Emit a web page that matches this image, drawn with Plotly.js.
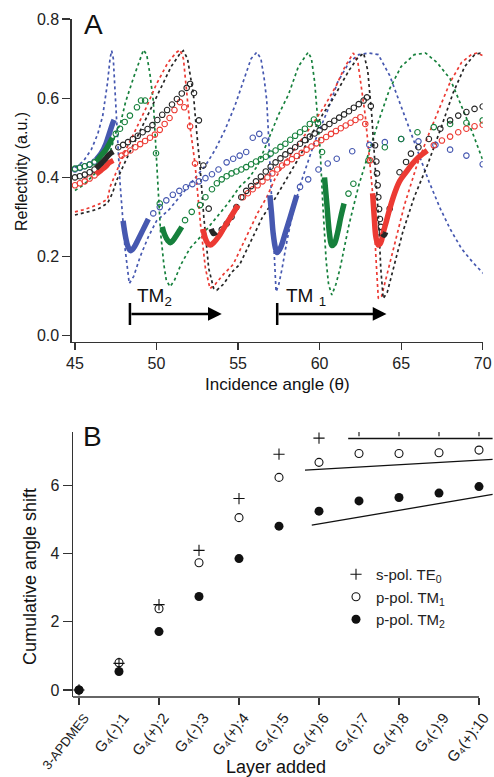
<!DOCTYPE html>
<html><head><meta charset="utf-8">
<script src="https://cdn.plot.ly/plotly-3.0.1.min.js"></script>
<style>body{margin:0;background:#fff}#c{width:494px;height:777px}</style>
</head><body><div id="c"></div>
<script>
// ---------- Panel A: simulated reflectivity (dotted) [theta, R] ----------
const blueSim = [[45.0,0.425],[45.5,0.44],[46.0,0.47],[46.4,0.51],[46.7,0.555],[47.0,0.64],[47.15,0.70],[47.25,0.72],[47.35,0.70],[47.55,0.556],[47.76,0.388],[48.07,0.221],[48.33,0.132],[48.6,0.15],[49.0,0.20],[49.5,0.25],[50.0,0.29],[50.8,0.32],[51.5,0.355],[52.2,0.39],[53.0,0.43],[53.6,0.47],[54.2,0.52],[54.8,0.58],[55.3,0.64],[55.8,0.70],[56.15,0.716],[56.4,0.70],[56.6,0.65],[56.76,0.594],[56.9,0.48],[57.06,0.342],[57.2,0.2],[57.33,0.111],[57.5,0.13],[57.7,0.17],[58.0,0.24],[58.3,0.30],[58.8,0.38],[59.3,0.44],[59.7,0.49],[60.5,0.57],[61.1,0.64],[61.8,0.69],[62.4,0.71],[63.0,0.714],[63.6,0.71],[64.3,0.657],[65.0,0.58],[65.5,0.52],[65.96,0.472],[66.7,0.39],[67.4,0.321],[68.0,0.27],[68.7,0.22],[69.4,0.185],[70.05,0.157]];
const greenSim = [[45.0,0.367],[45.5,0.38],[46.0,0.40],[46.7,0.43],[47.2,0.47],[47.55,0.519],[47.76,0.531],[48.1,0.59],[48.6,0.653],[49.0,0.70],[49.2,0.722],[49.4,0.71],[49.6,0.66],[49.8,0.594],[49.97,0.46],[50.1,0.35],[50.25,0.26],[50.45,0.18],[50.6,0.14],[50.83,0.124],[51.1,0.14],[51.5,0.18],[52.05,0.221],[52.7,0.25],[53.5,0.29],[54.3,0.33],[55.1,0.376],[55.7,0.40],[56.2,0.43],[56.8,0.49],[57.5,0.56],[58.1,0.61],[58.7,0.68],[59.3,0.716],[59.5,0.70],[59.7,0.64],[59.9,0.55],[60.03,0.472],[60.2,0.33],[60.4,0.19],[60.55,0.13],[60.75,0.103],[61.0,0.13],[61.26,0.171],[61.8,0.28],[62.4,0.38],[62.9,0.447],[63.6,0.54],[64.3,0.624],[65.0,0.68],[65.8,0.71],[66.5,0.714],[67.2,0.69],[68.0,0.649],[68.7,0.58],[69.4,0.51],[70.05,0.439]];
const redSim = [[45.0,0.313],[45.5,0.318],[46.0,0.325],[46.5,0.333],[47.0,0.345],[47.15,0.376],[47.5,0.41],[48.0,0.46],[48.6,0.51],[49.3,0.57],[50.0,0.636],[50.7,0.69],[51.2,0.715],[51.44,0.722],[51.65,0.70],[51.85,0.62],[52.06,0.527],[52.36,0.435],[52.7,0.28],[53.0,0.17],[53.28,0.119],[53.6,0.13],[54.1,0.155],[54.7,0.18],[55.5,0.25],[56.2,0.31],[56.76,0.35],[57.27,0.397],[58.0,0.445],[58.8,0.49],[59.5,0.53],[60.3,0.58],[61.0,0.63],[61.56,0.68],[62.07,0.714],[62.35,0.69],[62.6,0.62],[62.8,0.556],[63.05,0.45],[63.3,0.338],[63.45,0.20],[63.6,0.094],[63.8,0.10],[64.1,0.15],[64.5,0.22],[65.2,0.33],[65.96,0.43],[66.7,0.51],[67.4,0.58],[68.0,0.64],[68.7,0.69],[69.3,0.71],[69.64,0.714],[70.05,0.707]];
const blackSim = [[45.0,0.305],[46.0,0.315],[46.5,0.322],[47.0,0.335],[47.3,0.36],[47.55,0.392],[48.2,0.45],[48.8,0.50],[49.5,0.56],[50.2,0.62],[50.9,0.68],[51.4,0.71],[51.64,0.72],[51.9,0.70],[52.1,0.65],[52.26,0.611],[52.45,0.52],[52.67,0.426],[52.9,0.30],[53.2,0.17],[53.5,0.12],[53.7,0.115],[54.1,0.13],[54.6,0.16],[55.1,0.18],[55.8,0.24],[56.5,0.30],[57.2,0.342],[57.9,0.39],[58.6,0.44],[59.4,0.50],[60.2,0.56],[60.7,0.59],[61.15,0.624],[61.8,0.67],[62.3,0.70],[62.7,0.714],[62.95,0.67],[63.2,0.556],[63.4,0.43],[63.6,0.304],[63.75,0.17],[63.9,0.094],[64.15,0.11],[64.6,0.18],[65.1,0.262],[65.8,0.35],[66.6,0.43],[67.4,0.52],[68.2,0.615],[68.9,0.68],[69.5,0.71],[69.85,0.714],[70.05,0.71]];

// ---------- Panel A: measured data, open circles and dense bands ----------
const blueOpen = [[45.0,0.42],[45.3,0.424],[45.6,0.428],[45.9,0.433],[46.2,0.44],[null,null],[49.8,0.309],[50.2,0.325],[50.6,0.342],[51.0,0.356],[51.4,0.366],[51.8,0.375],[52.2,0.383],[52.6,0.39],[53.0,0.398],[53.4,0.408],[53.8,0.42],[54.3,0.438],[54.7,0.447],[55.1,0.455],[55.5,0.464],[55.9,0.50],[56.3,0.51],[56.65,0.493],[null,null],[58.8,0.376],[59.3,0.395],[59.93,0.42],[60.5,0.435],[61.05,0.447],[62.0,0.466],[63.05,0.482],[64.0,0.489],[65.0,0.497],[66.06,0.491],[67.1,0.482],[68.0,0.47],[69.0,0.455],[70.0,0.433]];
const blueBand = [[46.3,0.445],[46.6,0.46],[46.9,0.485],[47.1,0.51],[47.3,0.535],[47.4,0.545],[null,null],[47.95,0.29],[48.1,0.25],[48.25,0.225],[48.4,0.215],[48.6,0.222],[48.9,0.245],[49.2,0.27],[49.5,0.295],[null,null],[56.95,0.355],[57.05,0.31],[57.15,0.26],[57.3,0.22],[57.4,0.21],[57.6,0.222],[57.9,0.26],[58.2,0.30],[58.6,0.355]];
const greenOpen = [[45.0,0.422],[45.3,0.425],[45.6,0.428],[45.9,0.432],[46.2,0.438],[null,null],[47.5,0.51],[47.76,0.523],[48.05,0.54],[48.37,0.556],[48.8,0.577],[49.05,0.594],[49.3,0.594],[49.97,0.461],[50.2,0.334],[null,null],[51.75,0.292],[52.16,0.313],[52.67,0.33],[53.0,0.35],[53.4,0.37],[53.7,0.385],[54.0,0.395],[54.3,0.403],[54.6,0.41],[54.9,0.415],[55.2,0.42],[55.5,0.426],[55.8,0.433],[56.1,0.44],[56.4,0.446],[56.7,0.452],[57.0,0.46],[57.3,0.468],[57.6,0.477],[57.9,0.485],[58.2,0.495],[58.5,0.505],[58.8,0.514],[59.1,0.523],[59.4,0.535],[59.65,0.546],[59.9,0.537],[60.15,0.464],[null,null],[61.77,0.359],[62.07,0.384],[63.0,0.443],[64.0,0.476],[65.0,0.497],[66.0,0.514],[67.0,0.527],[68.0,0.535],[69.0,0.538],[70.0,0.544]];
const greenBand = [[46.3,0.44],[46.6,0.455],[46.9,0.47],[47.1,0.485],[47.3,0.50],[null,null],[50.35,0.275],[50.5,0.255],[50.7,0.24],[50.85,0.235],[51.0,0.24],[51.2,0.252],[51.4,0.265],[51.55,0.275],[null,null],[60.3,0.40],[60.45,0.33],[60.6,0.26],[60.75,0.228],[60.9,0.232],[61.1,0.26],[61.3,0.30],[61.5,0.334]];
const redOpen = [[45.0,0.38],[45.3,0.385],[45.6,0.39],[45.9,0.397],[46.2,0.405],[null,null],[47.86,0.455],[48.1,0.461],[48.4,0.468],[48.7,0.476],[49.0,0.484],[49.3,0.492],[49.6,0.50],[49.9,0.508],[50.2,0.52],[50.5,0.535],[50.8,0.55],[51.1,0.57],[51.44,0.59],[51.7,0.577],[52.06,0.529],[52.36,0.435],[null,null],[55.3,0.35],[55.6,0.36],[55.9,0.37],[56.2,0.38],[56.5,0.39],[56.8,0.40],[57.1,0.41],[57.4,0.42],[57.7,0.43],[58.0,0.438],[58.3,0.446],[58.6,0.454],[58.9,0.462],[59.2,0.47],[59.5,0.478],[59.8,0.486],[60.1,0.494],[60.4,0.502],[60.7,0.51],[61.0,0.517],[61.3,0.524],[61.6,0.531],[61.9,0.538],[62.2,0.545],[62.5,0.552],[62.8,0.535],[63.1,0.443],[null,null],[67.0,0.481],[67.5,0.493],[68.0,0.503],[68.5,0.514],[69.0,0.523],[69.5,0.529],[70.0,0.533]];
const redBand = [[46.3,0.408],[46.6,0.418],[46.9,0.428],[47.1,0.437],[47.35,0.443],[null,null],[52.85,0.27],[53.0,0.245],[53.15,0.233],[53.3,0.229],[53.5,0.235],[53.8,0.25],[54.1,0.27],[54.4,0.29],[54.7,0.31],[55.0,0.33],[null,null],[63.25,0.36],[63.35,0.30],[63.45,0.25],[63.6,0.229],[63.75,0.235],[63.9,0.26],[64.1,0.29],[64.3,0.321],[64.6,0.36],[64.9,0.39],[65.3,0.413],[65.7,0.435],[66.1,0.452],[66.6,0.468]];
const blackOpen = [[45.0,0.40],[45.3,0.403],[45.6,0.407],[45.9,0.413],[46.2,0.42],[null,null],[47.66,0.476],[47.95,0.482],[48.25,0.489],[48.55,0.497],[48.85,0.505],[49.15,0.514],[49.45,0.522],[49.75,0.532],[50.05,0.545],[50.35,0.558],[50.65,0.57],[50.95,0.584],[51.25,0.598],[51.55,0.612],[51.85,0.626],[52.06,0.636],[52.3,0.613],[52.6,0.544],[52.87,0.43],[53.2,0.321],[null,null],[54.0,0.268],[54.3,0.283],[54.6,0.30],[54.9,0.325],[55.2,0.35],[55.5,0.366],[55.8,0.378],[56.1,0.39],[56.4,0.402],[56.7,0.415],[57.0,0.427],[57.3,0.438],[57.6,0.448],[57.9,0.458],[58.2,0.467],[58.5,0.476],[58.8,0.485],[59.1,0.494],[59.4,0.503],[59.7,0.511],[60.0,0.519],[60.3,0.527],[60.6,0.535],[60.9,0.543],[61.2,0.551],[61.5,0.559],[61.8,0.567],[62.1,0.576],[62.4,0.585],[62.7,0.594],[62.9,0.602],[63.14,0.58],[63.4,0.481],[63.48,0.44],[63.52,0.41],[63.56,0.38],[63.6,0.35],[63.65,0.32],[63.7,0.295],[63.76,0.275],[63.82,0.262],[null,null],[64.3,0.321],[64.9,0.413],[65.3,0.439],[65.6,0.46],[66.06,0.476],[66.7,0.497],[67.4,0.523],[68.0,0.544],[68.5,0.556],[69.0,0.565],[69.5,0.573],[70.0,0.579]];
const blackBand = [[46.3,0.423],[46.6,0.435],[46.9,0.448],[47.1,0.458],[47.35,0.465],[null,null],[53.35,0.27],[53.5,0.258],[53.65,0.262],[null,null],[63.85,0.258],[63.95,0.254],[64.05,0.262]];

// ---------- Panel A: mode arrows [start theta, end theta] ----------
const tm2Arrow = [48.37, 54.0];
const tm1Arrow = [57.4, 64.1];

// ---------- Panel B ----------
const layers = ['<span style="font-size:13px;color:#222">3-APDMES</span>','G₄(-):1','G₄(+):2','G₄(-):3','G₄(+):4','G₄(-):5','G₄(+):6','G₄(-):7','G₄(+):8','G₄(-):9','G₄(+):10'];
const layerIdx = [0,1,2,3,4,5,6,7,8,9,10];
const shiftTE0 = [0,0.78,2.5,4.09,5.61,6.91,7.38,7.6,7.6,7.6,7.6];
const shiftTM1 = [0,0.80,2.38,3.73,5.05,6.23,6.67,6.93,6.93,6.95,7.03];
const shiftTM2 = [0,0.54,1.71,2.74,3.85,4.80,5.24,5.54,5.64,5.77,5.96];
const fitTE0x = [6.73,10.34], fitTE0y = [7.37,7.37];
const fitTM1x = [5.65,10.34], fitTM1y = [6.44,6.76];
const fitTM2x = [5.82,10.34], fitTM2y = [4.83,5.73];

const C = {blue:'#4658b0', green:'#16803c', red:'#ec3a33', black:'#262626'};
const xs = a => a.map(p => p[0]);
const ys = a => a.map(p => p[1]);

const traces = [];
function sim(d, col){ traces.push({x:xs(d), y:ys(d), mode:'lines', line:{color:col, width:1.7, dash:'dot'}, showlegend:false, hoverinfo:'skip', xaxis:'x', yaxis:'y'}); }
function open(d, col){ traces.push({x:xs(d), y:ys(d), mode:'markers', marker:{symbol:'circle-open', size:5.5, color:col, line:{width:1.1}}, showlegend:false, xaxis:'x', yaxis:'y'}); }
function band(d, col){ traces.push({x:xs(d), y:ys(d), mode:'lines', line:{color:col, width:5.5, shape:'spline'}, connectgaps:false, showlegend:false, xaxis:'x', yaxis:'y'}); }
sim(blueSim, C.blue); sim(greenSim, C.green); sim(redSim, C.red); sim(blackSim, C.black);
open(blueOpen, C.blue); open(greenOpen, C.green); open(redOpen, C.red); open(blackOpen, C.black);
band(blueBand, C.blue); band(greenBand, C.green); band(redBand, C.red); band(blackBand, C.black);

// Panel B traces
traces.push({x:fitTE0x, y:fitTE0y, mode:'lines', line:{color:'#111', width:1.3}, showlegend:false, xaxis:'x2', yaxis:'y2'});
traces.push({x:fitTM1x, y:fitTM1y, mode:'lines', line:{color:'#111', width:1.3}, showlegend:false, xaxis:'x2', yaxis:'y2'});
traces.push({x:fitTM2x, y:fitTM2y, mode:'lines', line:{color:'#111', width:1.3}, showlegend:false, xaxis:'x2', yaxis:'y2'});
traces.push({x:layerIdx, y:shiftTE0, mode:'markers', name:'s-pol. TE<sub>0</sub>', marker:{symbol:'cross-thin-open', size:8, color:'#111', line:{width:1.1, color:'#111'}}, xaxis:'x2', yaxis:'y2'});
traces.push({x:layerIdx, y:shiftTM1, mode:'markers', name:'p-pol. TM<sub>1</sub>', marker:{symbol:'circle-open', size:8, color:'#111', line:{width:1.1}}, xaxis:'x2', yaxis:'y2'});
traces.push({x:layerIdx, y:shiftTM2, mode:'markers', name:'p-pol. TM<sub>2</sub>', marker:{symbol:'circle', size:9, color:'#111'}, xaxis:'x2', yaxis:'y2'});
// carrier for the category label axis (draws nothing)
traces.push({x:layerIdx, y:shiftTM2, mode:'markers', marker:{opacity:0, size:1}, showlegend:false, hoverinfo:'skip', xaxis:'x3', yaxis:'y2'});

const W = 494, H = 777;
const px = v => v / W, py = v => 1 - v / H;
const axBase = {showgrid:false, zeroline:false, showline:true, linecolor:'#333', linewidth:1.3, ticks:'outside', tickcolor:'#333', tickwidth:1.3, tickfont:{size:16, color:'#222'}};
const lab = (x, y, text, size, extra) => Object.assign({xref:'paper', yref:'paper', x:px(x), y:py(y), xanchor:'center', yanchor:'middle', text:text, showarrow:false, font:{size:size, color:'#111'}}, extra || {});

const layout = {
  width:W, height:H, margin:{l:0,r:0,t:0,b:0}, paper_bgcolor:'#fff', plot_bgcolor:'rgba(0,0,0,0)',
  font:{family:'Liberation Sans, Arial, sans-serif', color:'#222'},
  xaxis: Object.assign({}, axBase, {domain:[px(71.7), px(482.7)], range:[44.8,70], anchor:'y', tickvals:[45,50,55,60,65,70], ticklen:7}),
  yaxis: Object.assign({}, axBase, {domain:[py(341.7), py(19)], range:[-0.015,0.8], anchor:'x', tickvals:[0,0.2,0.4,0.6,0.8], tickformat:'.1f', ticklen:8}),
  xaxis2: Object.assign({}, axBase, {domain:[px(73), px(493)], range:[-0.15,10.35], anchor:'y2', tickvals:[0,2,4,6,8,10], ticklen:7, showticklabels:false, showline:false}),
  xaxis3: Object.assign({}, axBase, {overlaying:'x2', range:[-0.27,10.23], anchor:'y2', tickvals:layerIdx, ticktext:layers, ticklen:5, tickcolor:'rgba(0,0,0,0)', showline:false, tickangle:-52, ticklabeloverflow:'allow', tickfont:{size:15, color:'#222'}}),
  yaxis2: Object.assign({}, axBase, {domain:[py(697), py(432)], range:[-0.206,7.56], anchor:'x2', tickvals:[0,2,4,6], ticklen:9}),
  showlegend:true,
  legend:{x:px(336), y:py(558), xanchor:'left', yanchor:'top', font:{size:15, color:'#222'}, bgcolor:'rgba(0,0,0,0)', itemwidth:30, tracegroupgap:0},
  shapes:[
    {type:'line', xref:'x2', yref:'y2 domain', x0:-0.15, x1:10, y0:0, y1:0, line:{color:'#333', width:1.3}},
    {type:'line', xref:'x', yref:'y', x0:tm2Arrow[0], x1:tm2Arrow[0], y0:0.027, y1:0.083, line:{color:'#000', width:2.5}},
    {type:'line', xref:'x', yref:'y', x0:tm1Arrow[0], x1:tm1Arrow[0], y0:0.027, y1:0.083, line:{color:'#000', width:2.5}}
  ],
  annotations:[
    {xref:'x', yref:'y', x:tm2Arrow[1], y:0.055, ax:tm2Arrow[0], ay:0.055, axref:'x', ayref:'y', text:'', showarrow:true, arrowhead:2, arrowsize:1.1, arrowwidth:2.5, arrowcolor:'#000'},
    {xref:'x', yref:'y', x:tm1Arrow[1], y:0.055, ax:tm1Arrow[0], ay:0.055, axref:'x', ayref:'y', text:'', showarrow:true, arrowhead:2, arrowsize:1.1, arrowwidth:2.5, arrowcolor:'#000'},
    {xref:'x', yref:'y', x:48.7, y:0.098, xanchor:'left', yanchor:'middle', text:'TM<sub>2</sub>', showarrow:false, font:{size:19, color:'#111'}},
    {xref:'x', yref:'y', x:57.8, y:0.098, xanchor:'left', yanchor:'middle', text:'TM <sub>1</sub>', showarrow:false, font:{size:19, color:'#111'}},
    lab(93, 25, 'A', 28),
    lab(92, 436, 'B', 28),
    lab(277, 384, 'Incidence angle (θ)', 17),
    lab(21, 172, 'Reflectivity (a.u.)', 16, {textangle:-90}),
    lab(30, 577, 'Cumulative angle shift', 18, {textangle:-90}),
    lab(276, 767, 'Layer added', 18)
  ]
};
Plotly.newPlot('c', traces, layout, {staticPlot:true, displayModeBar:false});
</script></body></html>
